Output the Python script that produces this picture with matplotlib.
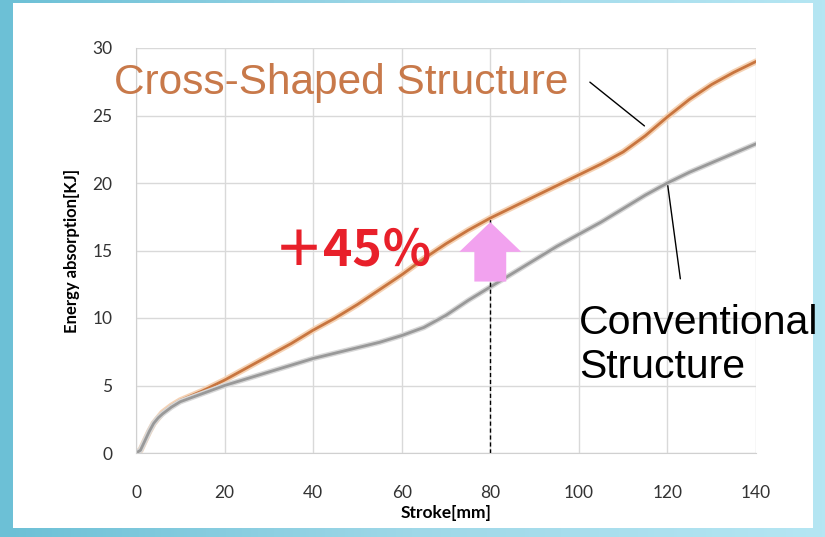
import numpy as np
import matplotlib.pyplot as plt
from matplotlib.patches import Rectangle, FancyArrow
from matplotlib.colors import LinearSegmentedColormap

# Data
stroke = [0, 1, 2, 3, 4, 5, 6, 8, 10, 15, 20, 25, 30, 35, 40, 45, 50, 55, 60, 65, 70,
          75, 80, 85, 90, 95, 100, 105, 110, 115, 120, 125, 130, 135, 140]
cross = [0, 0.2, 0.9, 1.6, 2.2, 2.6, 3.0, 3.5, 3.9, 4.6, 5.4, 6.3, 7.2, 8.1, 9.1, 10.0,
         11.0, 12.1, 13.2, 14.4, 15.5, 16.5, 17.4, 18.2, 19.0, 19.8, 20.6, 21.4, 22.3,
         23.5, 24.9, 26.2, 27.3, 28.2, 29.0]
conv = [0, 0.2, 0.9, 1.6, 2.2, 2.6, 2.9, 3.4, 3.8, 4.4, 5.0, 5.5, 6.0, 6.5, 7.0, 7.4,
        7.8, 8.2, 8.7, 9.3, 10.2, 11.3, 12.3, 13.3, 14.3, 15.3, 16.2, 17.1, 18.1, 19.1,
        20.0, 20.8, 21.5, 22.2, 22.9]
xticks = [0, 20, 40, 60, 80, 100, 120, 140]
yticks = [0, 5, 10, 15, 20, 25, 30]

fig = plt.figure(figsize=(8.25, 5.37), dpi=100)

# gradient background + white panel
bg = fig.add_axes([0, 0, 1, 1])
grad = np.linspace(0, 1, 256).reshape(1, -1)
cmap = LinearSegmentedColormap.from_list("bg", ["#6cc0d6", "#9fd8e8", "#b5e6f3"])
bg.imshow(grad, aspect="auto", cmap=cmap, extent=[0, 1, 0, 1])
bg.add_patch(Rectangle((13 / 825, 1 - 528 / 537), 800 / 825, 525 / 537,
                       facecolor="white", edgecolor="none"))
bg.set_xlim(0, 1)
bg.set_ylim(0, 1)
bg.axis("off")

ax = fig.add_axes([136 / 825, 1 - 453 / 537, 620 / 825, 405 / 537])
ax.set_facecolor("none")
ax.plot(stroke, cross, color="#f5d2b4", lw=4.5, solid_capstyle="round")
ax.plot(stroke, cross, color="#c8753f", lw=2)
ax.plot(stroke, conv, color="#d8d8d8", lw=4, solid_capstyle="round")
ax.plot(stroke, conv, color="#999999", lw=2)

ax.set_xlim(0, 140)
ax.set_ylim(0, 30)
ax.set_xticks(xticks)
ax.set_yticks(yticks)
ax.grid(True, color="#d9d9d9", lw=1)
ax.set_axisbelow(True)
for s in ["top", "right"]:
    ax.spines[s].set_visible(False)
for s in ["left", "bottom"]:
    ax.spines[s].set_color("#d0d0d0")
ax.tick_params(length=0, labelsize=12.5, labelcolor="#333333")
ax.tick_params(axis="y", pad=17)
ax.tick_params(axis="x", pad=23)
for lab in ax.get_xticklabels() + ax.get_yticklabels():
    lab.set_family("Lato")
ax.set_xlabel("Stroke[mm]", fontsize=12.5, fontweight="bold", family="Lato", labelpad=3)
ax.set_ylabel("Energy absorption[KJ]", fontsize=12, fontweight="bold", family="Lato", labelpad=9)

# dashed marker at 80 mm and arrow
ax.plot([80, 80], [0, 17.4], color="black", lw=1, ls=(0, (3, 2)))
ax.add_patch(FancyArrow(80, 12.7, 0, 4.4, width=7.2, head_width=14.0, head_length=2.2,
                        length_includes_head=True, color="#f2a2ef", ec="none", zorder=3))

ax.text(-5, 27.4, "Cross-Shaped Structure", color="#c8794a", fontsize=30.5,
        family="Liberation Sans", va="center", ha="left", clip_on=False)
ax.annotate("", xy=(115.3, 24.1), xytext=(102, 27.6),
            arrowprops=dict(arrowstyle="-", color="black", lw=1))
ax.text(100, 8.0, "Conventional\nStructure", color="black", fontsize=29.5,
        family="Liberation Sans", va="center", ha="left", linespacing=1.17, clip_on=False)
ax.annotate("", xy=(120, 20.0), xytext=(123, 12.7),
            arrowprops=dict(arrowstyle="-", color="black", lw=1))
ax.text(31, 15.0, "＋45％", color="#e8202a", fontsize=36, fontweight="bold",
        family=["Noto Sans CJK JP", "DejaVu Sans"], va="center", ha="left")

fig.savefig("out.png", dpi=100)
